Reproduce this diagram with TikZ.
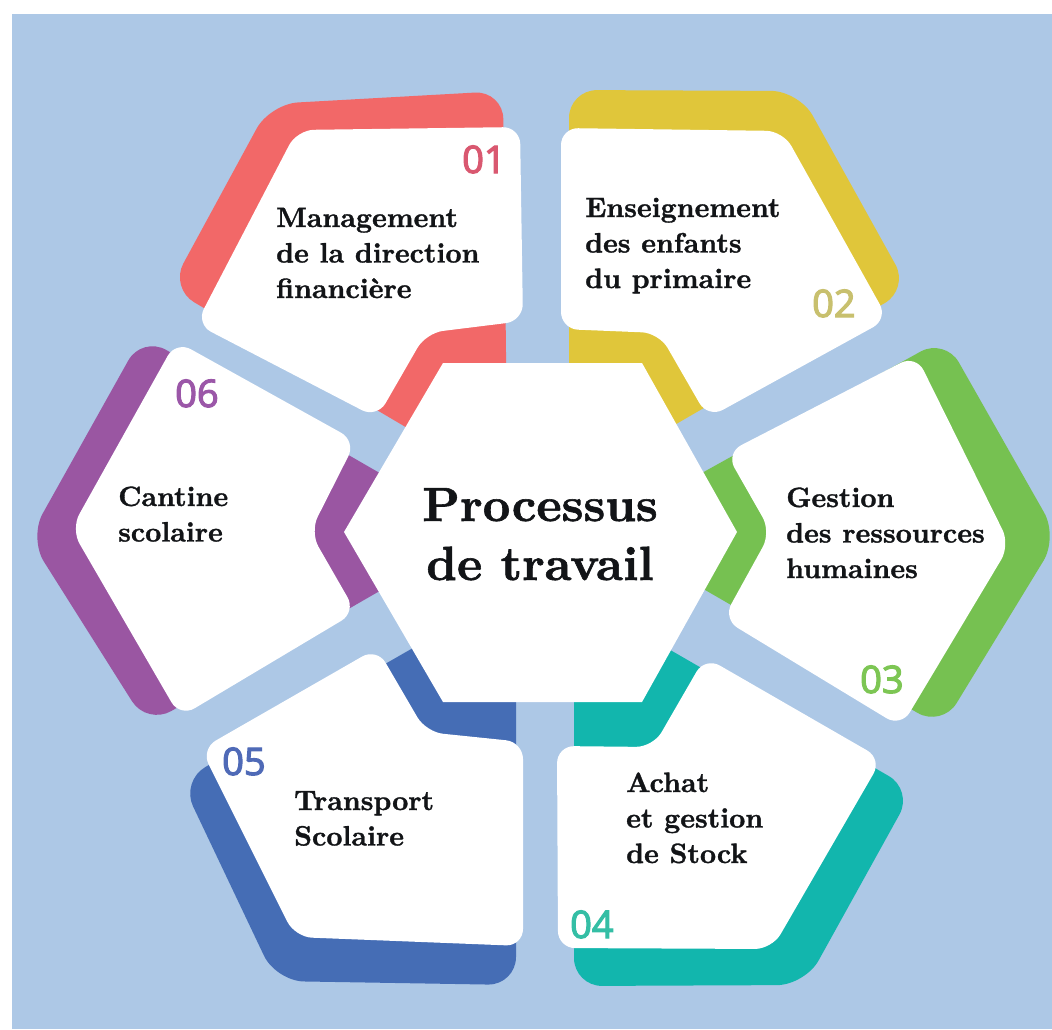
\documentclass[tikz,border=0pt]{standalone}
\usepackage{fontspec}
\newfontfamily\numfont{Open Sans}[FakeBold=3]
\newfontfamily\lblfont{lmroman10-bold.otf}[FakeBold=1.2]
\definecolor{bgblue}{RGB}{173,200,230}
\definecolor{redc}{RGB}{242,104,104}
\definecolor{yelc}{RGB}{224,198,58}
\definecolor{grnc}{RGB}{118,193,81}
\definecolor{tealc}{RGB}{18,182,173}
\definecolor{bluec}{RGB}{69,109,181}
\definecolor{purc}{RGB}{154,86,162}
\definecolor{ink}{RGB}{18,20,23}
\definecolor{numa}{RGB}{217,88,112}
\definecolor{numb}{RGB}{200,192,110}
\definecolor{numc}{RGB}{125,198,84}
\definecolor{numd}{RGB}{52,190,165}
\definecolor{nume}{RGB}{79,106,183}
\definecolor{numf}{RGB}{155,87,168}
\newcommand\petallines[1]{\begin{tabular}[t]{@{}l@{}}#1\end{tabular}}
\newcommand\centerlines[1]{\begin{tabular}[t]{@{}c@{}}#1\end{tabular}}
\begin{document}
\begin{tikzpicture}[x=1pt,y=-1pt,
  band/.style={rounded corners=28pt},
  card/.style={fill=white,rounded corners=17pt},
  lbl/.style={anchor=base west,inner sep=0pt,text=ink,font=\lblfont\fontsize{28}{35.5}\selectfont},
  num/.style={anchor=base west,inner sep=0pt,font=\numfont\fontsize{38}{40}\selectfont}]
\useasboundingbox (0,0) rectangle (1052,1029);
\fill[white] (0,0) rectangle (1052,1029);
\fill[bgblue] (12,14) rectangle (1052,1029);
% coloured bands
\fill[redc,band] (540,532) -- (470,465) -- (170,288) -- (270,104) -- (503,91) -- (507,440) -- cycle;
\fill[yelc,band] (540,532) -- (569,440) -- (569,90) -- (799,91) -- (909,289) -- (640,445) -- cycle;
\fill[grnc,band] (540,532) -- (655,561) -- (942,727) -- (1058,537) -- (945,338) -- (655,499) -- cycle;
\fill[tealc,band] (540,532) -- (574,620) -- (574,986) -- (805,985) -- (913,790) -- (620,621) -- cycle;
\fill[bluec,band] (540,532) -- (460,621) -- (181,781) -- (276,981) -- (516,985) -- (516,620) -- cycle;
\fill[purc,band] (540,532) -- (430,502) -- (142,336) -- (29,538) -- (147,725) -- (430,562) -- cycle;
% white cards
\fill[card] (297,130) -- (520,127) -- (523,321) -- (426,333) -- (377,418) -- (196,324) -- cycle;
\fill[card] (561,128) -- (783,131) -- (888,319) -- (708,418) -- (659,333) -- (561,329) -- cycle;
\fill[card] (726,453) -- (916,355) -- (1010,545) -- (901,727) -- (723,619) -- (771,532) -- cycle;
\fill[card] (557,746) -- (653,747) -- (705,657) -- (882,759) -- (772,949) -- (558,948) -- cycle;
\fill[card] (201,749) -- (377,648) -- (426,732) -- (523,742) -- (523,946) -- (295,937) -- cycle;
\fill[card] (176,341) -- (356,441) -- (310,532) -- (356,612) -- (180,717) -- (71,529) -- cycle;
% central hexagon
\fill[white] (344,532) -- (443,363) -- (642,363) -- (737,532) -- (642,702) -- (443,702) -- cycle;
\node[anchor=base,inner sep=0pt,text=ink,font=\lblfont\fontsize{48}{59}\selectfont] (title) at (540,521) {\centerlines{Processus\\de travail}};
% labels
\node[lbl] (t1) at (276,227) {\petallines{Management\\de la direction\\financière}};
\node[lbl] (t2) at (585,217) {\petallines{Enseignement\\des enfants\\du primaire}};
\node[lbl] (t3) at (786,507) {\petallines{Gestion\\des ressources\\humaines}};
\node[lbl] (t4) at (626,792) {\petallines{Achat\\et gestion\\de Stock}};
\node[lbl] (t5) at (294,810) {\petallines{Transport\\Scolaire}};
\node[lbl] (t6) at (118,506) {\petallines{Cantine\\scolaire}};
% numbers
\node[num,text=numa] (n1) at (462,173) {01};
\node[num,text=numb] (n2) at (812,317) {02};
\node[num,text=numc] (n3) at (860,693) {03};
\node[num,text=numd] (n4) at (570,938) {04};
\node[num,text=nume] (n5) at (222,775) {05};
\node[num,text=numf] (n6) at (175,407) {06};
\end{tikzpicture}
\end{document}
